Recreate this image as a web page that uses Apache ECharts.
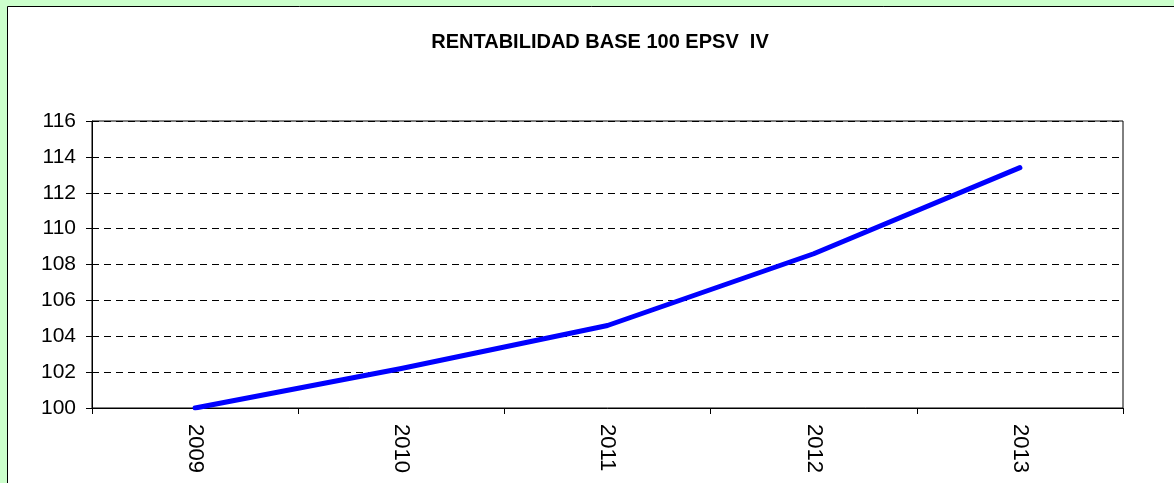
<!DOCTYPE html>
<html>
<head>
<meta charset="utf-8">
<script src="https://cdn.jsdelivr.net/npm/echarts@6/dist/echarts.min.js"></script>
<style>
  html, body { margin: 0; padding: 0; background: #ccffcc; }
  #chart { width: 1174px; height: 483px; }
</style>
</head>
<body>
<div id="chart"></div>
<script>
  // datos
  var years = ['2009', '2010', '2011', '2012', '2013'];
  var rentabilidad = [100, 102.2, 104.6, 108.6, 113.4];
  var yMin = 100, yMax = 116, yStep = 2;

  var chart = echarts.init(document.getElementById('chart'));
  chart.setOption({
    backgroundColor: '#ccffcc',
    animation: false,
    graphic: [{
      type: 'rect',
      z: -10,
      shape: { x: 7.5, y: 6.5, width: 1200, height: 520 },
      style: { fill: '#fff', stroke: '#000', lineWidth: 1 }
    }],
    title: {
      text: 'RENTABILIDAD BASE 100 EPSV  IV',
      left: 595,
      top: 27,
      textAlign: 'center',
      textStyle: { fontFamily: 'Liberation Sans, Arial', fontWeight: 'bold', fontSize: 20, color: '#000' }
    },
    grid: {
      left: 92, top: 121, right: 51, bottom: 75,
      show: true, borderColor: '#000', borderWidth: 1, backgroundColor: '#fff'
    },
    xAxis: {
      type: 'category',
      data: years,
      boundaryGap: true,
      axisLine: { lineStyle: { color: '#000', width: 1 } },
      axisTick: { show: true, length: 6, lineStyle: { color: '#000' } },
      axisLabel: {
        rotate: -90, margin: 16,
        fontFamily: 'Liberation Sans, Arial', fontSize: 22, color: '#000'
      }
    },
    yAxis: {
      type: 'value',
      min: yMin, max: yMax, interval: yStep,
      axisLine: { show: true, lineStyle: { color: '#000', width: 1 } },
      axisTick: { show: true, length: 6, lineStyle: { color: '#000' } },
      axisLabel: { margin: 16, fontFamily: 'Liberation Sans, Arial', fontSize: 21, color: '#000' },
      splitLine: { show: true, lineStyle: { color: '#000', width: 1, type: [7, 5] } }
    },
    series: [{
      type: 'line',
      data: rentabilidad,
      showSymbol: false,
      symbol: 'none',
      lineStyle: { color: '#0000ff', width: 5, cap: 'round', join: 'round' }
    }]
  });
</script>
</body>
</html>
